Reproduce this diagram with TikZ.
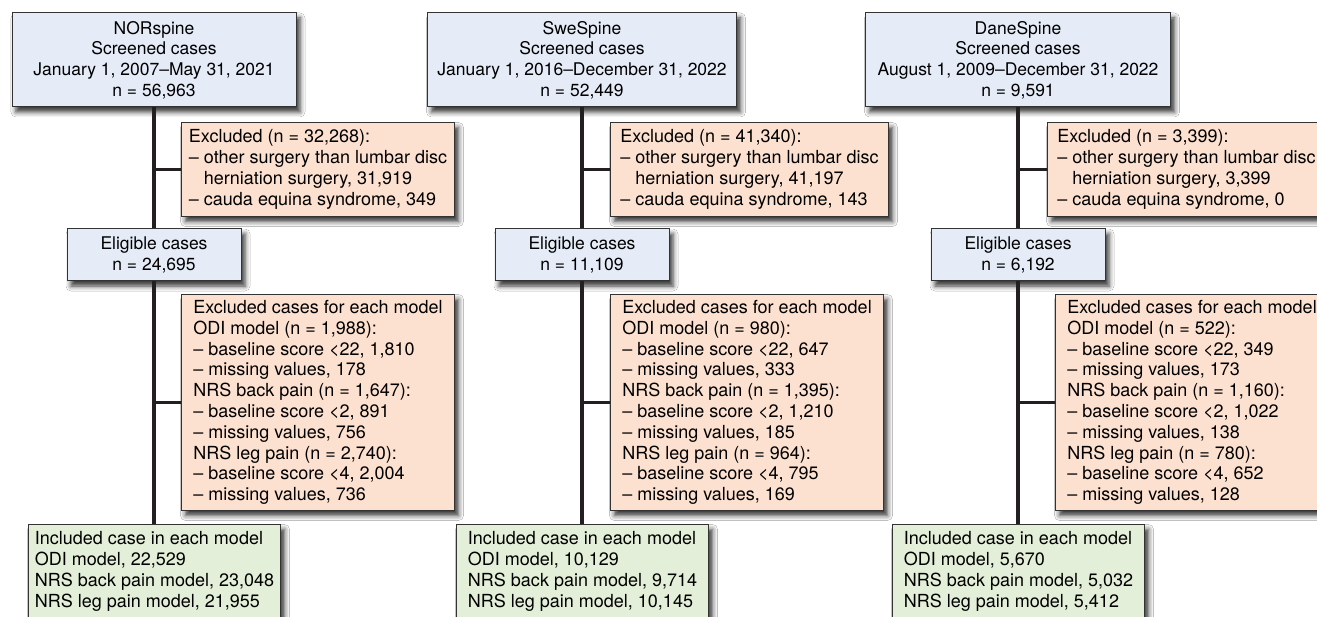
\documentclass[tikz,border=0pt]{standalone}
\usepackage{fontspec}
\setmainfont{TeX Gyre Heros}
\usetikzlibrary{shadows.blur}
\definecolor{boxblue}{HTML}{E5ECF7}
\definecolor{boxred}{HTML}{FDE1D0}
\definecolor{boxgreen}{HTML}{E3EFD8}
\definecolor{linedark}{HTML}{231F20}

\begin{document}
\begin{tikzpicture}[x=1pt,y=-1pt,
    box/.style={draw=black!80,line width=1pt,
      blur shadow={shadow xshift=4pt,shadow yshift=-5pt,shadow blur radius=5pt,shadow opacity=80},
      font=\fontsize{18}{20.8}\selectfont},
    src/.style={box,fill=boxblue,align=center,minimum height=94pt,font=\fontsize{17.5}{20.8}\selectfont},
    elig/.style={box,fill=boxblue,align=center,minimum width=174pt,minimum height=52pt,font=\fontsize{17.5}{20.8}\selectfont},
    excl/.style={box,fill=boxred,align=left,anchor=north west,inner xsep=0pt,minimum width=273pt},
    incl/.style={box,fill=boxgreen,align=left,anchor=north west,inner xsep=0pt,inner ysep=7pt,minimum width=252pt},
    flow/.style={draw=linedark,line width=3.5pt}]
    \fill[white] (0,0) rectangle (1317,617);
    \useasboundingbox (0,0) rectangle (1317,617);
    \clip (0,0) rectangle (1317,617);
    \node[src,minimum width=284pt] (a1) at (154,60) {NORspine\\Screened cases\\January 1, 2007–May 31, 2021\\n = 56,963};
    \node[src,minimum width=309pt] (a2) at (582,60) {SweSpine\\Screened cases\\January 1, 2016–December 31, 2022\\n = 52,449};
    \node[src,minimum width=305pt] (a3) at (1018,60) {DaneSpine\\Screened cases\\August 1, 2009–December 31, 2022\\n = 9,591};
    \node[excl,minimum height=94pt] (b1) at (181,122) {Excluded (n = 32,268):\\– other surgery than lumbar disc\\\hphantom{– }herniation surgery, 31,919\\– cauda equina syndrome, 349};
    \node[excl,minimum height=94pt,minimum width=278pt] (b2) at (610,122) {Excluded (n = 41,340):\\– other surgery than lumbar disc\\\hphantom{– }herniation surgery, 41,197\\– cauda equina syndrome, 143};
    \node[excl,minimum height=94pt,minimum width=278pt] (b3) at (1047,122) {Excluded (n = 3,399):\\– other surgery than lumbar disc\\\hphantom{– }herniation surgery, 3,399\\– cauda equina syndrome, 0};
    \node[elig] (c1) at (154,255) {Eligible cases\\n = 24,695};
    \node[elig] (c2) at (582,255) {Eligible cases\\n = 11,109};
    \node[elig] (c3) at (1018,255) {Eligible cases\\n = 6,192};
    \node[excl,minimum height=216pt] (d1) at (181,294) {Excluded cases for each model\\ODI model (n = 1,988):\\– baseline score <22, 1,810\\– missing values, 178\\NRS back pain (n = 1,647):\\– baseline score <2, 891\\– missing values, 756\\NRS leg pain (n = 2,740):\\– baseline score <4, 2,004\\– missing values, 736};
    \node[excl,minimum height=216pt] (d2) at (610,294) {Excluded cases for each model\\ODI model (n = 980):\\– baseline score <22, 647\\– missing values, 333\\NRS back pain (n = 1,395):\\– baseline score <2, 1,210\\– missing values, 185\\NRS leg pain (n = 964):\\– baseline score <4, 795\\– missing values, 169};
    \node[excl,minimum height=216pt] (d3) at (1055,294) {Excluded cases for each model\\ODI model (n = 522):\\– baseline score <22, 349\\– missing values, 173\\NRS back pain (n = 1,160):\\– baseline score <2, 1,022\\– missing values, 138\\NRS leg pain (n = 780):\\– baseline score <4, 652\\– missing values, 128};
    \node[incl] (e1) at (28,524) {Included case in each model\\ODI model, 22,529\\NRS back pain model, 23,048\\NRS leg pain model, 21,955};
    \node[incl] (e2) at (456,524) {Included case in each model\\ODI model, 10,129\\NRS back pain model, 9,714\\NRS leg pain model, 10,145};
    \node[incl] (e3) at (892,524) {Included case in each model\\ODI model, 5,670\\NRS back pain model, 5,032\\NRS leg pain model, 5,412};
    \draw[flow] (a1) -- (c1);
    \draw[flow] (c1) -- (e1.north -| c1.south);
    \draw[flow] (a2) -- (c2);
    \draw[flow] (c2) -- (e2.north -| c2.south);
    \draw[flow] (a3) -- (c3);
    \draw[flow] (c3) -- (e3.north -| c3.south);
    \draw[flow] (b1.west) -- (b1.west -| a1.south);
    \draw[flow] (d1.west) -- (d1.west -| c1.south);
    \draw[flow] (b2.west) -- (b2.west -| a2.south);
    \draw[flow] (d2.west) -- (d2.west -| c2.south);
    \draw[flow] (b3.west) -- (b3.west -| a3.south);
    \draw[flow] (d3.west) -- (d3.west -| c3.south);
\end{tikzpicture}
\end{document}
